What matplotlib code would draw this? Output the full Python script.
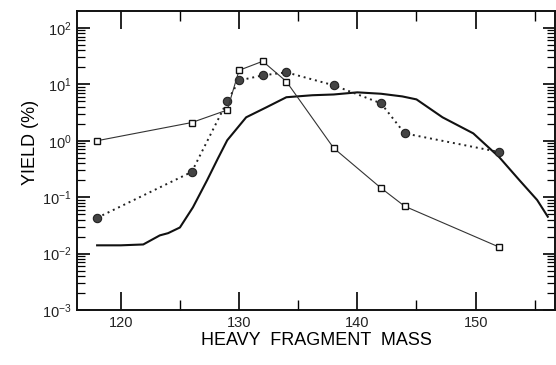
import matplotlib
matplotlib.use("Agg")
import matplotlib.pyplot as plt
from matplotlib.ticker import LogLocator, MultipleLocator, NullFormatter

plt.rcParams["font.family"] = ["Liberation Sans", "DejaVu Sans"]
plt.rcParams["text.color"] = "#222222"
plt.rcParams["xtick.labelcolor"] = "#222222"
plt.rcParams["ytick.labelcolor"] = "#222222"

# open squares, thin solid line
sq_mass = [118, 126, 129, 130, 132, 134, 138, 142, 144, 152]
sq_yield = [1.0, 2.1, 3.5, 17.7, 25.6, 11.2, 0.74, 0.145, 0.069, 0.013]

# filled circles, dotted line
ci_mass = [118, 126, 129, 130, 132, 134, 138, 142, 144, 152]
ci_yield = [0.043, 0.28, 5.0, 11.7, 14.4, 16.3, 9.6, 4.6, 1.35, 0.63]

# smooth calculated curve
cu_mass = [118, 120, 121.9, 123.3, 124, 125, 126.1, 127.3, 128.2, 129, 130.6,
           132.3, 134, 136.2, 138, 140, 142, 143.8, 145, 147.2, 149.8, 152,
           153.7, 155.2, 156.1]
cu_yield = [0.014, 0.014, 0.0145, 0.021, 0.023, 0.029, 0.066, 0.20, 0.48, 1.02,
            2.6, 3.9, 5.9, 6.4, 6.6, 7.2, 6.8, 6.1, 5.4, 2.6, 1.35, 0.51,
            0.20, 0.089, 0.045]

fig = plt.figure(figsize=(5.56, 3.65), dpi=100)
ax = fig.add_axes([0.1385, 0.1507, 0.8595, 0.8193])

ax.plot(cu_mass, cu_yield, color="#111111", lw=1.5)
ax.plot(ci_mass, ci_yield, color="#222222", lw=1.4, ls=(0, (1, 2)),
        marker="o", ms=6, mfc="#444444", mec="#222222", mew=0.8)
ax.plot(sq_mass, sq_yield, color="#333333", lw=0.8,
        marker="s", ms=5, mfc="white", mec="#111111", mew=1.0)

ax.set_yscale("log")
ax.set_xlim(116.3, 156.7)
ax.set_ylim(1e-3, 10 ** 2.3)

ax.xaxis.set_major_locator(MultipleLocator(10))
ax.xaxis.set_minor_locator(MultipleLocator(5))
ax.yaxis.set_major_locator(LogLocator(base=10, numticks=10))
ax.yaxis.set_minor_locator(LogLocator(base=10, subs=range(2, 10), numticks=20))
ax.yaxis.set_minor_formatter(NullFormatter())

ax.tick_params(axis="x", which="major", direction="in", length=13, width=1.2,
               top=True, labelsize=10.5, pad=4)
ax.tick_params(axis="x", which="minor", direction="in", length=7, width=1.0,
               top=True)
ax.tick_params(axis="y", which="major", direction="in", length=9, width=1.2,
               right=True, labelsize=10.5, pad=4)
ax.tick_params(axis="y", which="minor", direction="in", length=6, width=0.9,
               right=True)

for s in ax.spines.values():
    s.set_linewidth(1.4)
    s.set_color("#111111")

ax.set_xlabel("HEAVY  FRAGMENT  MASS", fontsize=13, labelpad=2)
ax.set_ylabel("YIELD (%)", fontsize=13)
ax.yaxis.set_label_coords(-0.08, 0.56)

fig.savefig("out.png", dpi=100)
